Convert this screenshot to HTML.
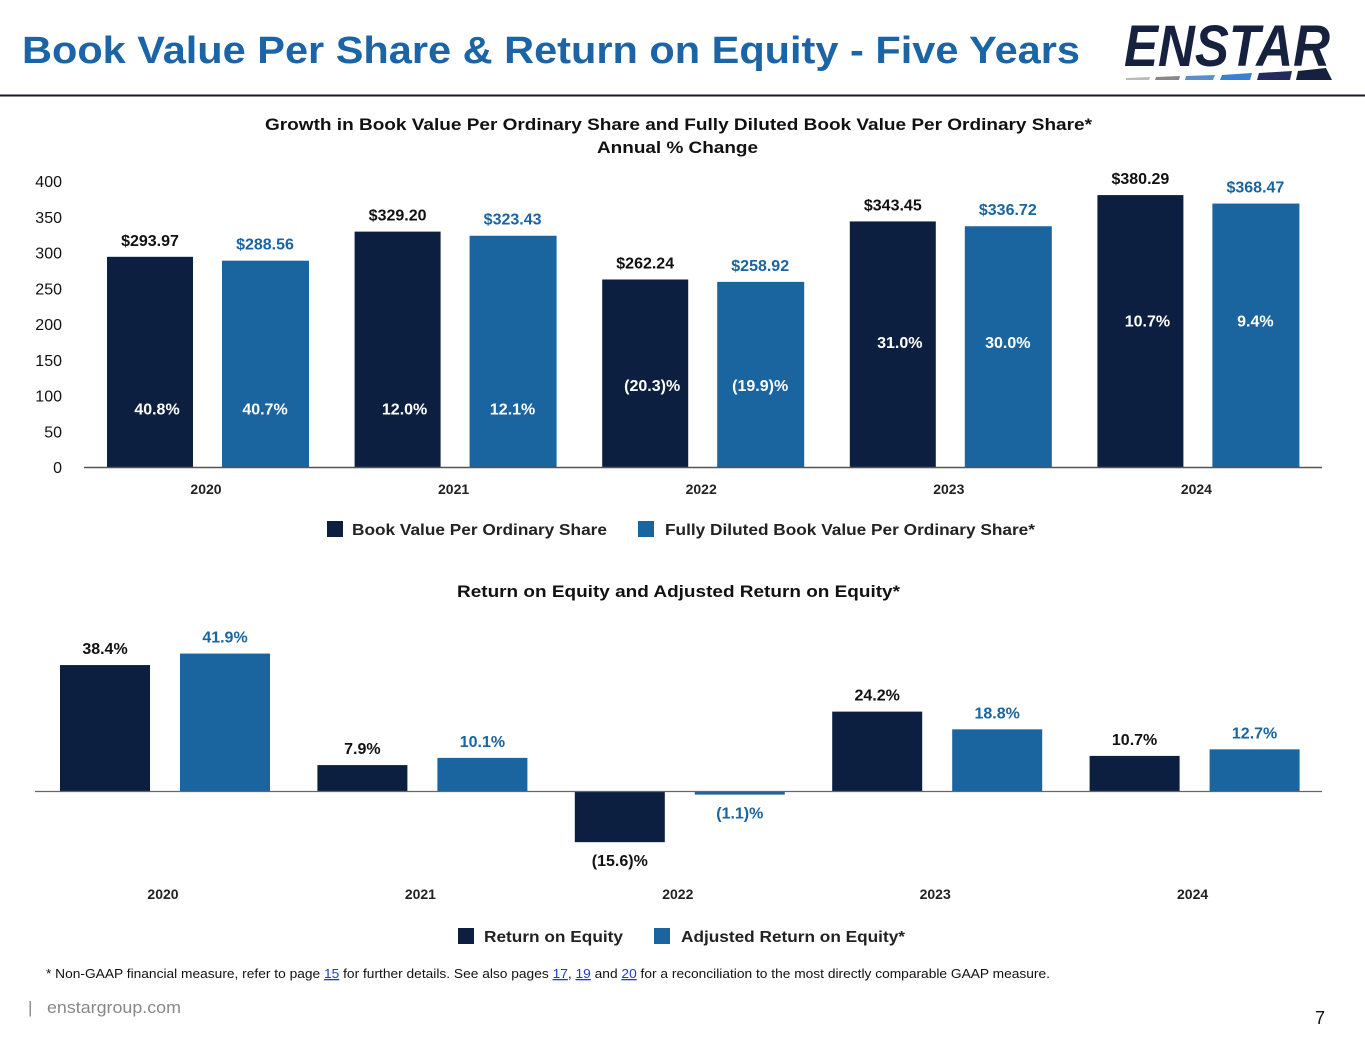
<!DOCTYPE html>
<html><head><meta charset="utf-8"><style>
body{margin:0;background:#fff;}
svg{display:block;font-family:"Liberation Sans",Arial,sans-serif;}
</style></head><body>
<svg id="s" width="1365" height="1055" viewBox="0 0 1365 1055">
<text x="22" y="63" font-size="38" font-weight="bold" fill="#1b64a5" textLength="1058" lengthAdjust="spacingAndGlyphs">Book Value Per Share &amp; Return on Equity - Five Years</text>
<g>
<text x="1124" y="66" font-size="58" font-weight="bold" font-style="italic" fill="#16203f" textLength="206" lengthAdjust="spacingAndGlyphs">ENSTAR</text>
<polygon points="1126,78 1150,77 1149,80 1126,80" fill="#bbb"/>
<polygon points="1156,77 1180,76 1179,80 1155,80" fill="#888"/>
<polygon points="1186,76 1215,75 1213,80 1185,80" fill="#5a8fcc"/>
<polygon points="1222,75 1252,73 1250,80 1220,80" fill="#3a7fd0"/>
<polygon points="1259,73 1292,71 1290,80 1257,80" fill="#252a5c"/>
<polygon points="1298,71 1326,68 1332,80 1296,80" fill="#16203f"/>
</g>
<line x1="0" y1="95.5" x2="1365" y2="95.5" stroke="#1a1a2e" stroke-width="2"/>
<text x="265" y="130" font-size="17" font-weight="bold" fill="#111" textLength="827" lengthAdjust="spacingAndGlyphs">Growth in Book Value Per Ordinary Share and Fully Diluted Book Value Per Ordinary Share*</text>
<text x="597" y="153" font-size="17" font-weight="bold" fill="#111" textLength="161" lengthAdjust="spacingAndGlyphs">Annual % Change</text>
<g id="topg"></g>
<g>
<rect x="327" y="521" width="16" height="16" fill="#0c1f40"/>
<text x="352" y="535" font-size="16" font-weight="bold" fill="#222" textLength="255" lengthAdjust="spacingAndGlyphs">Book Value Per Ordinary Share</text>
<rect x="638" y="521" width="16" height="16" fill="#1a64a0"/>
<text x="665" y="535" font-size="16" font-weight="bold" fill="#222" textLength="370" lengthAdjust="spacingAndGlyphs">Fully Diluted Book Value Per Ordinary Share*</text>
</g>
<text x="457" y="597" font-size="17" font-weight="bold" fill="#111" textLength="443" lengthAdjust="spacingAndGlyphs">Return on Equity and Adjusted Return on Equity*</text>
<g id="botg"></g>
<g>
<rect x="458" y="928" width="16" height="16" fill="#0c1f40"/>
<text x="484" y="942" font-size="16" font-weight="bold" fill="#222" textLength="139" lengthAdjust="spacingAndGlyphs">Return on Equity</text>
<rect x="654" y="928" width="16" height="16" fill="#1a64a0"/>
<text x="681" y="942" font-size="16" font-weight="bold" fill="#222" textLength="224" lengthAdjust="spacingAndGlyphs">Adjusted Return on Equity*</text>
</g>
<text x="46" y="978" font-size="13" fill="#111" textLength="1004" lengthAdjust="spacingAndGlyphs">* Non-GAAP financial measure, refer to page <tspan fill="#1a3cc8" text-decoration="underline">15</tspan> for further details. See also pages <tspan fill="#1a3cc8" text-decoration="underline">17</tspan>, <tspan fill="#1a3cc8" text-decoration="underline">19</tspan> and <tspan fill="#1a3cc8" text-decoration="underline">20</tspan> for a reconciliation to the most directly comparable GAAP measure.</text>
<text x="28" y="1013" font-size="17" fill="#888">|</text>
<text x="47" y="1013" font-size="17" fill="#888" textLength="134" lengthAdjust="spacingAndGlyphs">enstargroup.com</text>
<text x="1325" y="1024" font-size="18" fill="#111" text-anchor="end">7</text>
</svg>
<script>
const years=["2020","2021","2022","2023","2024"];
const bvps=[293.97,329.20,262.24,343.45,380.29];
const fdbvps=[288.56,323.43,258.92,336.72,368.47];
const bvpsPct=["40.8%","12.0%","(20.3)%","31.0%","10.7%"];
const fdbvpsPct=["40.7%","12.1%","(19.9)%","30.0%","9.4%"];
const pctLabelAt=[82,82,115,175,205];
const yTicks=[0,50,100,150,200,250,300,350,400];
const roe=[38.4,7.9,-15.6,24.2,10.7];
const aroe=[41.9,10.1,-1.1,18.8,12.7];
const roeLbl=["38.4%","7.9%","(15.6)%","24.2%","10.7%"];
const aroeLbl=["41.9%","10.1%","(1.1)%","18.8%","12.7%"];
const NS="http://www.w3.org/2000/svg";
const DARK="#0c1f40",BLUE="#1a64a0";
function mk(p,tag,a,txt){const e=document.createElementNS(NS,tag);for(const k in a)e.setAttribute(k,a[k]);if(txt!=null)e.textContent=txt;p.appendChild(e);return e;}
const topG=document.getElementById('topg');
const y1=v=>467-v*0.715;
const gx1=i=>84+247.6*i;
yTicks.forEach(t=>{const e=mk(topG,'text',{x:62,y:y1(t)+6,'font-size':16,'text-anchor':'end',fill:'#111'},t);

});
years.forEach((yr,i)=>{
 const g=gx1(i);
 let b=mk(topG,'rect',{x:g+23,y:y1(bvps[i]),width:86,height:467-y1(bvps[i]),fill:DARK});
 
 
 let c=mk(topG,'rect',{x:g+138,y:y1(fdbvps[i]),width:87,height:467-y1(fdbvps[i]),fill:BLUE});
 
 
 let l=mk(topG,'text',{x:g+66,y:y1(bvps[i])-11,'font-size':16,'font-weight':'bold','text-anchor':'middle',fill:'#111'},'$'+bvps[i].toFixed(2));
 
 
 let m=mk(topG,'text',{x:g+181,y:y1(fdbvps[i])-11,'font-size':16,'font-weight':'bold','text-anchor':'middle',fill:BLUE},'$'+fdbvps[i].toFixed(2));
 
 
 let p=mk(topG,'text',{x:g+73,y:y1(pctLabelAt[i])+6,'font-size':16,'font-weight':'bold','text-anchor':'middle',fill:'#fff'},bvpsPct[i]);
 
 
 let q=mk(topG,'text',{x:g+181,y:y1(pctLabelAt[i])+6,'font-size':16,'font-weight':'bold','text-anchor':'middle',fill:'#fff'},fdbvpsPct[i]);
 
 
 let x=mk(topG,'text',{x:g+122,y:494,'font-size':14,'font-weight':'bold','text-anchor':'middle',fill:'#222'},yr);
 
 
});
let ax=mk(topG,'line',{x1:84,y1:467.5,x2:1322,y2:467.5,stroke:'#555','stroke-width':1.5});


const botG=document.getElementById('botg');
const y2=v=>791-v*3.28;
const gx2=i=>35+257.4*i;
years.forEach((yr,i)=>{
 const g=gx2(i);
 const r=roe[i],a=aroe[i];
 let b=mk(botG,'rect',{x:g+25,y:Math.min(y2(r),791),width:90,height:Math.abs(y2(r)-791),fill:DARK});
 
 
 let c=mk(botG,'rect',{x:g+145,y:Math.min(y2(a),791),width:90,height:Math.abs(y2(a)-791),fill:BLUE});
 
 
 let l=mk(botG,'text',{x:g+70,y:r>=0?y2(r)-11:y2(r)+24,'font-size':16,'font-weight':'bold','text-anchor':'middle',fill:'#111'},roeLbl[i]);
 
 
 let m=mk(botG,'text',{x:g+190,y:a>=0?y2(a)-11:y2(a)+24,'font-size':16,'font-weight':'bold','text-anchor':'middle',fill:BLUE},aroeLbl[i]);
 
 
 let x=mk(botG,'text',{x:g+128,y:899,'font-size':14,'font-weight':'bold','text-anchor':'middle',fill:'#222'},yr);
 
 
});
let ax2=mk(botG,'line',{x1:35,y1:791.5,x2:1322,y2:791.5,stroke:'#666','stroke-width':1.2});


</script>
</body></html>
